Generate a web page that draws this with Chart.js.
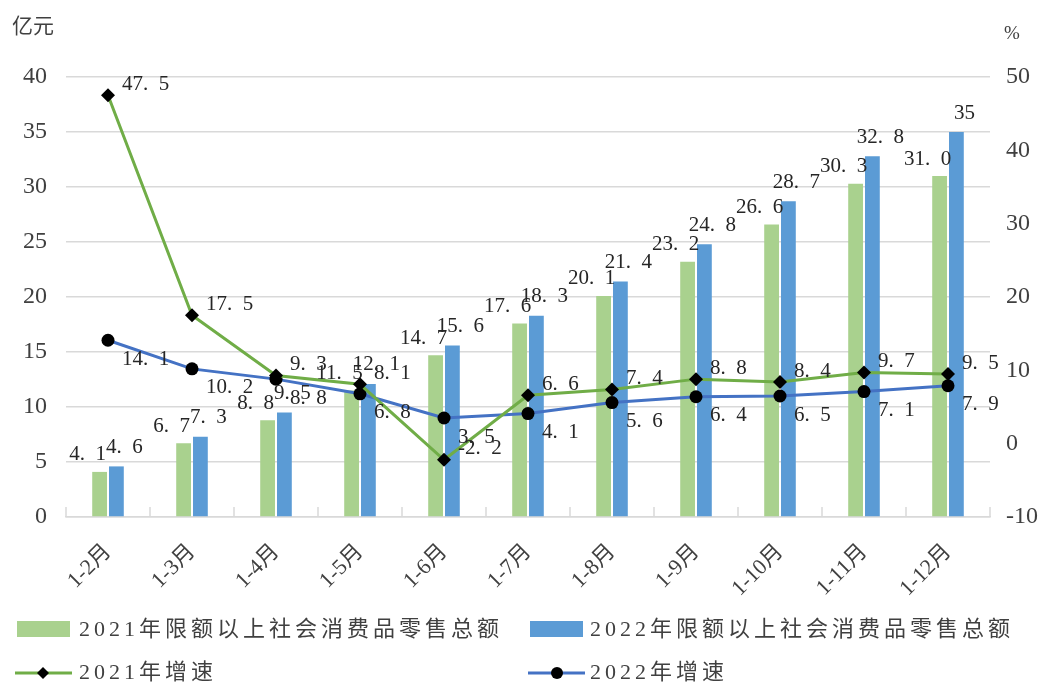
<!DOCTYPE html>
<html>
<head>
<meta charset="utf-8">
<script src="https://cdn.jsdelivr.net/npm/chart.js@4.4.1/dist/chart.umd.min.js"></script>
<style>
html,body{margin:0;padding:0;background:#fff;}
#wrap{position:relative;width:1051px;height:686px;overflow:hidden;background:#fff;}
#c{position:absolute;left:0;top:0;}
.t{position:absolute;font-family:"Liberation Serif","Times New Roman","DejaVu Serif","Noto Sans CJK SC",serif;color:#404040;white-space:nowrap;}
.lg{position:absolute;font-family:"Liberation Serif","Times New Roman","DejaVu Serif","Noto Sans CJK SC",serif;color:#404040;font-size:22px;line-height:30px;height:30px;letter-spacing:4px;white-space:nowrap;}
.sw{position:absolute;width:53px;height:16px;}
svg{position:absolute;}
</style>
</head>
<body>
<div id="wrap">
<canvas id="c" width="1051" height="686"></canvas>
<div class="t" style="left:12px;top:9px;font-size:21px;">亿元</div>
<div class="t" style="left:1004px;top:22px;font-size:19px;">%</div>

<div class="sw" style="left:17px;top:621px;background:#a9d18e;"></div>
<div class="lg" style="left:79px;top:614px;">2021年限额以上社会消费品零售总额</div>
<div class="sw" style="left:530px;top:621px;background:#5b9bd5;"></div>
<div class="lg" style="left:590px;top:614px;">2022年限额以上社会消费品零售总额</div>

<svg style="left:15px;top:663px;" width="58" height="20"><line x1="0" y1="10" x2="57" y2="10" stroke="#70ad47" stroke-width="3"/><polygon points="28,4 34,10 28,16 22,10" fill="#000"/></svg>
<div class="lg" style="left:79px;top:657px;">2021年增速</div>
<svg style="left:528px;top:663px;" width="58" height="20"><line x1="0" y1="10" x2="57" y2="10" stroke="#4472c4" stroke-width="3"/><circle cx="29" cy="10" r="6" fill="#000"/></svg>
<div class="lg" style="left:590px;top:657px;">2022年增速</div>
</div>
<script>
const categories = ['1-2月','1-3月','1-4月','1-5月','1-6月','1-7月','1-8月','1-9月','1-10月','1-11月','1-12月'];
const sales2021 = [4.1, 6.7, 8.8, 11.5, 14.7, 17.6, 20.1, 23.2, 26.6, 30.3, 31.0];
const sales2022 = [4.6, 7.3, 9.5, 12.1, 15.6, 18.3, 21.4, 24.8, 28.7, 32.8, 35];
const growth2021 = [47.5, 17.5, 9.3, 8.1, -2.2, 6.6, 7.4, 8.8, 8.4, 9.7, 9.5];
const growth2022 = [14.1, 10.2, 8.8, 6.8, 3.5, 4.1, 5.6, 6.4, 6.5, 7.1, 7.9];

const FONT = '"Liberation Serif", "Times New Roman", "DejaVu Serif", "Noto Sans CJK SC", serif';
Chart.defaults.font.family = FONT;

const labelPlugin = {
  id: 'vlabels',
  afterDatasetsDraw(chart) {
    const ctx = chart.ctx;
    chart.data.datasets.forEach((ds, i) => {
      const meta = chart.getDatasetMeta(i);
      const L = ds.lbl;
      meta.data.forEach((el, j) => {
        const v = ds.data[j];
        let txt = (L.plainInt && Number.isInteger(v)) ? String(v) : v.toFixed(1);
        txt = txt.replace('.', '.\u2002');
        ctx.save();
        ctx.font = '21px ' + FONT;
        ctx.fillStyle = '#262626';
        ctx.textAlign = L.align;
        ctx.textBaseline = 'middle';
        ctx.fillText(txt, el.x + L.dx, el.y + L.dy);
        ctx.restore();
      });
    });
  }
};

const tickPlugin = {
  id: 'xticks',
  afterDraw(chart) {
    const x = chart.scales.x, ctx = chart.ctx;
    const n = x.ticks.length;
    const half = (x.getPixelForValue(1) - x.getPixelForValue(0)) / 2;
    ctx.save();
    ctx.strokeStyle = '#d9d9d9';
    ctx.lineWidth = 1.5;
    for (let i = 0; i <= n; i++) {
      const px = Math.round(x.getPixelForValue(0) - half + i * half * 2);
      ctx.beginPath();
      ctx.moveTo(px, chart.chartArea.bottom);
      ctx.lineTo(px, chart.chartArea.bottom - 10);
      ctx.stroke();
    }
    ctx.restore();
  }
};

new Chart(document.getElementById('c'), {
  data: {
    labels: categories,
    datasets: [
      { type: 'line', label: '2021年增速', data: growth2021, yAxisID: 'y1', order: 1,
        borderColor: '#70ad47', borderWidth: 3, tension: 0, pointStyle: 'rectRot',
        pointRadius: 7, pointBackgroundColor: '#000', pointBorderColor: '#000', pointBorderWidth: 0,
        lbl: { dx: 14, dy: -11, align: 'left' } },
      { type: 'line', label: '2022年增速', data: growth2022, yAxisID: 'y1', order: 1,
        borderColor: '#4472c4', borderWidth: 3, tension: 0, pointStyle: 'circle',
        pointRadius: 6.5, pointBackgroundColor: '#000', pointBorderColor: '#000', pointBorderWidth: 0,
        lbl: { dx: 14, dy: 19, align: 'left' } },
      { type: 'bar', label: '2021年限额以上社会消费品零售总额', data: sales2021, yAxisID: 'y', order: 2,
        backgroundColor: '#a9d18e', categoryPercentage: 0.4, barPercentage: 0.88,
        lbl: { dx: -12, dy: -17, align: 'center' } },
      { type: 'bar', label: '2022年限额以上社会消费品零售总额', data: sales2022, yAxisID: 'y', order: 2,
        backgroundColor: '#5b9bd5', categoryPercentage: 0.4, barPercentage: 0.88,
        lbl: { dx: 8, dy: -19, align: 'center', plainInt: true } }
    ]
  },
  options: {
    responsive: false,
    animation: false,
    layout: { padding: { top: 77, left: 0, right: 0, bottom: 0 } },
    plugins: { legend: { display: false }, tooltip: { enabled: false } },
    scales: {
      x: {
        grid: { display: true, drawOnChartArea: false, drawTicks: false },
        border: { display: true, color: '#d9d9d9', width: 1.5 },
        ticks: { minRotation: 45, maxRotation: 45, padding: 22, color: '#404040', font: { size: 22 } },
        afterFit: s => { s.height = 169; }
      },
      y: {
        position: 'left', min: 0, max: 40,
        ticks: { stepSize: 5, padding: 19, color: '#404040', font: { size: 24 } },
        grid: { color: '#d9d9d9', lineWidth: 1.5, drawTicks: false },
        border: { display: false },
        afterFit: s => { s.width = 66; }
      },
      y1: {
        position: 'right', min: -10, max: 50,
        ticks: { stepSize: 10, padding: 16, color: '#404040', font: { size: 24 } },
        grid: { drawOnChartArea: false, drawTicks: false },
        border: { display: false },
        afterFit: s => { s.width = 61; }
      }
    }
  },
  plugins: [labelPlugin, tickPlugin]
});
</script>
</body>
</html>
